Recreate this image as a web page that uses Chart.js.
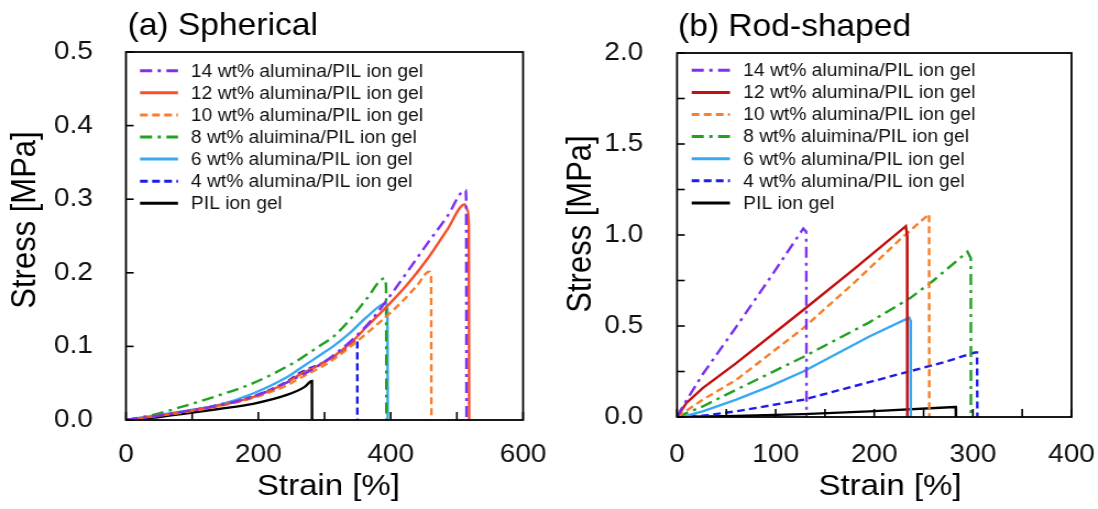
<!DOCTYPE html>
<html lang="en">
<head>
    <meta charset="UTF-8">
    <title>Stress-strain curves</title>
    <script src="https://cdn.jsdelivr.net/npm/chart.js"></script>
    <style>
        body { margin: 0; background: #fff; width: 1098px; height: 509px; overflow: hidden; position: relative; }
        canvas { position: absolute; top: 0; transform: scaleX(1.1); transform-origin: 0 0; }
        #chartA { left: 0; }
        #chartB { left: 549px; }
    </style>
</head>
<body>
    <canvas id="chartA" width="499" height="509" style="width:499px;height:509px"></canvas>
    <canvas id="chartB" width="499" height="509" style="width:499px;height:509px"></canvas>

    <script>
        // legend labels (same for both panels)
        const labels = [
            '14 wt% alumina/PIL ion gel',
            '12 wt% alumina/PIL ion gel',
            '10 wt% alumina/PIL ion gel',
            '8 wt% aluimina/PIL ion gel',
            '6 wt% alumina/PIL ion gel',
            '4 wt% alumina/PIL ion gel',
            'PIL ion gel'
        ];

        // (a) Spherical - strain [%] / stress [MPa]
        const sphStrain14 = [0, 42, 92, 142, 192, 243, 293, 343, 370, 396, 424, 454, 485, 513, 514, 514.5];
        const sphStress14 = [0, 0.005, 0.012, 0.02, 0.032, 0.051, 0.075, 0.11, 0.135, 0.165, 0.2, 0.238, 0.276, 0.3125, 0.3, 0];
        const sphStrain12 = [0, 42, 92, 142, 192, 243, 263, 293, 313, 340, 364, 394, 424, 454, 485, 512, 516, 518, 518.5];
        const sphStress12 = [0, 0.005, 0.012, 0.02, 0.031, 0.051, 0.062, 0.075, 0.086, 0.105, 0.127, 0.154, 0.183, 0.217, 0.258, 0.293, 0.285, 0.265, 0];
        const sphStrain10 = [0, 42, 92, 142, 192, 243, 263, 293, 313, 364, 414, 440, 458, 461, 461.5];
        const sphStress10 = [0, 0.005, 0.011, 0.019, 0.03, 0.047, 0.057, 0.071, 0.082, 0.118, 0.158, 0.183, 0.2015, 0.195, 0];
        const sphStrain8 = [0, 41, 92, 142, 192, 243, 263, 293, 313, 338, 364, 391, 393, 393.5];
        const sphStress8 = [0, 0.007, 0.02, 0.034, 0.05, 0.0725, 0.083, 0.101, 0.113, 0.136, 0.165, 0.1925, 0.18, 0];
        const sphStrain6 = [0, 42, 92, 142, 192, 243, 263, 293, 313, 338, 364, 393, 395, 395.5];
        const sphStress6 = [0, 0.006, 0.0125, 0.021, 0.036, 0.058, 0.07, 0.088, 0.1, 0.118, 0.14, 0.1585, 0.15, 0];
        const sphStrain4 = [0, 42, 92, 142, 192, 243, 263, 293, 313, 330, 349.5, 349.6];
        const sphStress4 = [0, 0.005, 0.012, 0.021, 0.032, 0.052, 0.064, 0.076, 0.085, 0.096, 0.109, 0];
        const sphStrain0 = [0, 50, 92, 140, 192, 243, 270, 281, 281.1];
        const sphStress0 = [0, 0.004, 0.009, 0.015, 0.022, 0.034, 0.045, 0.053, 0];

        // (b) Rod-shaped
        const rodStrain14 = [0, 6, 26, 60, 95, 128, 131, 131.3];
        const rodStress14 = [0, 0.06, 0.235, 0.495, 0.77, 1.036, 1.018, 0];
        const rodStrain12 = [0, 9.5, 26, 60, 128, 178.5, 232, 233.3, 233.5];
        const rodStress12 = [0, 0.077, 0.159, 0.296, 0.588, 0.808, 1.049, 1.0, 0];
        const rodStrain10 = [0, 26, 60, 128, 180, 229, 255.6, 255.8];
        const rodStress10 = [0, 0.095, 0.204, 0.488, 0.74, 0.99, 1.115, 0];
        const rodStrain8 = [0, 26, 60, 128, 195, 236, 260, 294.5, 297.9, 298];
        const rodStress8 = [0, 0.058, 0.15, 0.33, 0.52, 0.652, 0.75, 0.908, 0.872, 0];
        const rodStrain6 = [0, 10, 26, 60, 94, 128, 195, 235.3, 236.7, 237];
        const rodStress6 = [0, 0.008, 0.031, 0.095, 0.168, 0.25, 0.442, 0.546, 0.53, 0];
        const rodStrain4 = [0, 26, 60, 128, 180, 229, 270, 301.9, 304.2, 304.5];
        const rodStress4 = [0, 0.007, 0.031, 0.095, 0.17, 0.241, 0.3, 0.354, 0.354, 0];
        const rodStrain0 = [0, 60, 128, 195, 281.6, 282.6, 282.8];
        const rodStress0 = [0, 0.006, 0.016, 0.031, 0.055, 0.055, 0];

        const FONT = "'Liberation Sans', Arial, sans-serif";
        const DASH = [7, 4];
        const DASHDOT = [11, 5, 3, 5];

        function pts(xs, ys) {
            return xs.map((x, i) => ({ x: x, y: ys[i] }));
        }

        function makeSets(series, colors, dashes, smooth) {
            return series.map((s, i) => ({
                label: labels[i],
                data: pts(s[0], s[1]),
                borderColor: colors[i],
                borderDash: dashes[i],
                borderWidth: 2.4,
                pointRadius: 0,
                fill: false,
                tension: 0,
                cubicInterpolationMode: smooth ? 'monotone' : 'default'
            }));
        }

        // frame, inward ticks, legend and titles
        const decor = {
            id: 'decor',
            afterDatasetsDraw(chart, args, opt) {
                const c = chart.ctx;
                const a = chart.chartArea;
                const xs = chart.scales.x, ys = chart.scales.y;
                c.save();
                c.strokeStyle = '#000';
                c.lineWidth = 1.6;
                xs.ticks.forEach(t => {
                    const px = xs.getPixelForValue(t.value);
                    c.beginPath(); c.moveTo(px, a.bottom); c.lineTo(px, a.bottom - 8); c.stroke();
                });
                ys.ticks.forEach(t => {
                    const py = ys.getPixelForValue(t.value);
                    c.beginPath(); c.moveTo(a.left, py); c.lineTo(a.left + 7, py); c.stroke();
                });
                c.lineWidth = 1.8;
                c.strokeRect(a.left, a.top, a.right - a.left, a.bottom - a.top);

                // legend inside plot
                c.font = '17.5px ' + FONT;
                c.textBaseline = 'middle';
                c.textAlign = 'left';
                chart.data.datasets.forEach((d, i) => {
                    const y = opt.legY + i * 22.1;
                    c.strokeStyle = d.borderColor;
                    c.lineWidth = 3;
                    c.setLineDash(d.borderDash || []);
                    c.beginPath(); c.moveTo(opt.legX0, y); c.lineTo(opt.legX1, y); c.stroke();
                    c.setLineDash([]);
                    c.fillStyle = '#111';
                    c.fillText(d.label, opt.legTX, y + 1);
                });

                // panel title
                c.fillStyle = '#000';
                c.textBaseline = 'alphabetic';
                c.font = '30.5px ' + FONT;
                c.fillText(opt.title, opt.titleX, opt.titleY);

                // axis titles
                c.textAlign = 'center';
                c.font = '30px ' + FONT;
                c.fillText('Strain [%]', opt.xTitleX, 495);
                c.translate(opt.yTitleX, opt.yTitleY);
                c.rotate(-Math.PI / 2);
                c.textBaseline = 'middle';
                c.font = '31px ' + FONT;
                c.fillText('Stress [MPa]', 0, 0);
                c.restore();
            }
        };

        function makeChart(id, sets, cfg) {
            const ctx = document.getElementById(id).getContext('2d');
            return new Chart(ctx, {
                type: 'line',
                data: { datasets: sets },
                options: {
                    responsive: false,
                    animation: false,
                    devicePixelRatio: 1,
                    layout: { padding: { left: 0, top: cfg.top, right: cfg.right, bottom: 0 } },
                    plugins: {
                        legend: { display: false },
                        tooltip: { enabled: false },
                        decor: cfg.decor
                    },
                    scales: {
                        x: {
                            type: 'linear',
                            min: 0,
                            max: cfg.xMax,
                            grid: { display: false, drawTicks: false },
                            border: { display: false },
                            ticks: {
                                stepSize: cfg.xStep,
                                padding: cfg.xPad,
                                color: '#111',
                                font: { family: FONT, size: 25.5 },
                                maxRotation: 0,
                                autoSkip: false,
                                callback: v => (v % cfg.xLabelStep === 0 ? String(v) : '')
                            },
                            afterFit: s => {
                                s.height = cfg.xHeight;
                                s.paddingLeft = 0;
                                s.paddingRight = 0;
                            }
                        },
                        y: {
                            min: 0,
                            max: cfg.yMax,
                            grid: { display: false, drawTicks: false },
                            border: { display: false },
                            ticks: {
                                stepSize: cfg.yStep,
                                padding: cfg.yPad,
                                color: '#111',
                                font: { family: FONT, size: 25.5 },
                                autoSkip: false,
                                callback: v => {
                                    const k = v / cfg.yLabelStep;
                                    return Math.abs(k - Math.round(k)) < 1e-6 ? v.toFixed(1) : '';
                                }
                            },
                            afterFit: s => {
                                s.width = cfg.yWidth;
                                s.paddingTop = 0;
                                s.paddingBottom = 0;
                            }
                        }
                    }
                },
                plugins: [decor]
            });
        }

        const sphColors = ['#7b30f2', '#f5502a', '#f77f2a', '#22a022', '#38a8f2', '#1c1ce6', '#000000'];
        const rodColors = ['#7b30f2', '#c40f0f', '#f77f2a', '#22a022', '#38a8f2', '#1c1ce6', '#000000'];
        const dashes = [DASHDOT, [], DASH, DASHDOT, [], DASH, []];

        makeChart('chartA', makeSets([
            [sphStrain14, sphStress14], [sphStrain12, sphStress12], [sphStrain10, sphStress10],
            [sphStrain8, sphStress8], [sphStrain6, sphStress6], [sphStrain4, sphStress4], [sphStrain0, sphStress0]
        ], sphColors, dashes, true), {
            top: 52, right: 23.5, xHeight: 89, yWidth: 114.5,
            xMax: 600, xStep: 100, xLabelStep: 200, xPad: 20,
            yMax: 0.5, yStep: 0.1, yLabelStep: 0.1, yPad: 30,
            decor: {
                title: '(a) Spherical', titleX: 116, titleY: 35,
                xTitleX: 298.6, yTitleX: 23.6, yTitleY: 220,
                legX0: 127.3, legX1: 161.8, legTX: 173.6, legY: 70.7
            }
        });

        makeChart('chartB', makeSets([
            [rodStrain14, rodStress14], [rodStrain12, rodStress12], [rodStrain10, rodStress10],
            [rodStrain8, rodStress8], [rodStrain6, rodStress6], [rodStrain4, rodStress4], [rodStrain0, rodStress0]
        ], rodColors, dashes, false), {
            top: 53, right: 24, xHeight: 92, yWidth: 116.4,
            xMax: 400, xStep: 50, xLabelStep: 100, xPad: 22.7,
            yMax: 2, yStep: 0.25, yLabelStep: 0.5, yPad: 30.7,
            decor: {
                title: '(b) Rod-shaped', titleX: 117.3, titleY: 36,
                xTitleX: 310, yTitleX: 29.1, yTitleY: 224,
                legX0: 129.7, legX1: 164.5, legTX: 176.6, legY: 70.3
            }
        });
    </script>
</body>
</html>
